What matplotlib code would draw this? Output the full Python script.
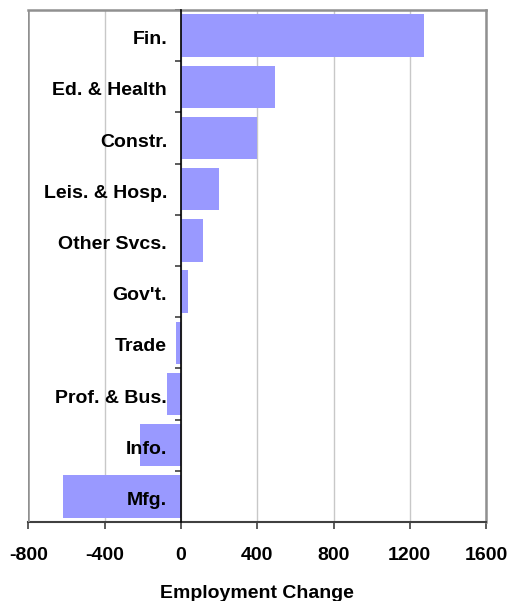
import matplotlib
matplotlib.use("Agg")
import matplotlib.pyplot as plt
import numpy as np

plt.rcParams['font.family'] = ['Liberation Sans', 'DejaVu Sans']

# sectors, top to bottom, and their employment change
sectors = ['Fin.', 'Ed. & Health', 'Constr.', 'Leis. & Hosp.', 'Other Svcs.',
           "Gov't.", 'Trade', 'Prof. & Bus.', 'Info.', 'Mfg.']
change = [1275, 495, 400, 197, 113, 39, -27, -76, -213, -618]
xticks = [-800, -400, 0, 400, 800, 1200, 1600]

fig = plt.figure(figsize=(5.07, 6.01), dpi=100)
ax = fig.add_axes([0.0562, 0.1314, 0.9024, 0.852])

n = len(sectors)
ypos = np.arange(n)[::-1]
ax.barh(ypos, change, height=0.83, color='#9999FF', zorder=2)

ax.set_xlim(-800, 1600)
ax.set_ylim(-0.5, n - 0.5)
ax.set_xticks(xticks)
ax.set_xticklabels([str(t) for t in xticks], fontsize=14, fontweight='bold')
ax.tick_params(axis='x', length=5, width=1.2, color='#404040', pad=13)
ax.xaxis.grid(True, color='#c8c8c8', lw=1, zorder=0)

# y axis sits on the zero line, ticks between categories
ax.spines['left'].set_position(('data', 0))
ax.spines['left'].set_color('black')
ax.spines['left'].set_linewidth(1.2)
ax.spines['left'].set_zorder(3)
ax.set_yticks(np.arange(-0.5, n, 1))
ax.set_yticklabels([])
ax.tick_params(axis='y', length=4, width=1.2, color='#404040')
for s in ['top', 'right']:
    ax.spines[s].set_color('#909090')
    ax.spines[s].set_linewidth(1.8)
ax.spines['bottom'].set_color('#404040')
ax.spines['bottom'].set_linewidth(1.5)
ax.axvline(-800, color='#909090', lw=1.8, zorder=3)

for y, name in zip(ypos, sectors):
    ax.annotate(name, xy=(0, y), xytext=(-10, -3), textcoords='offset points',
                ha='right', va='center', fontsize=14, fontweight='bold', zorder=4)

ax.set_xlabel('Employment Change', fontsize=14, fontweight='bold', labelpad=15)

fig.savefig('out.png', dpi=100)
